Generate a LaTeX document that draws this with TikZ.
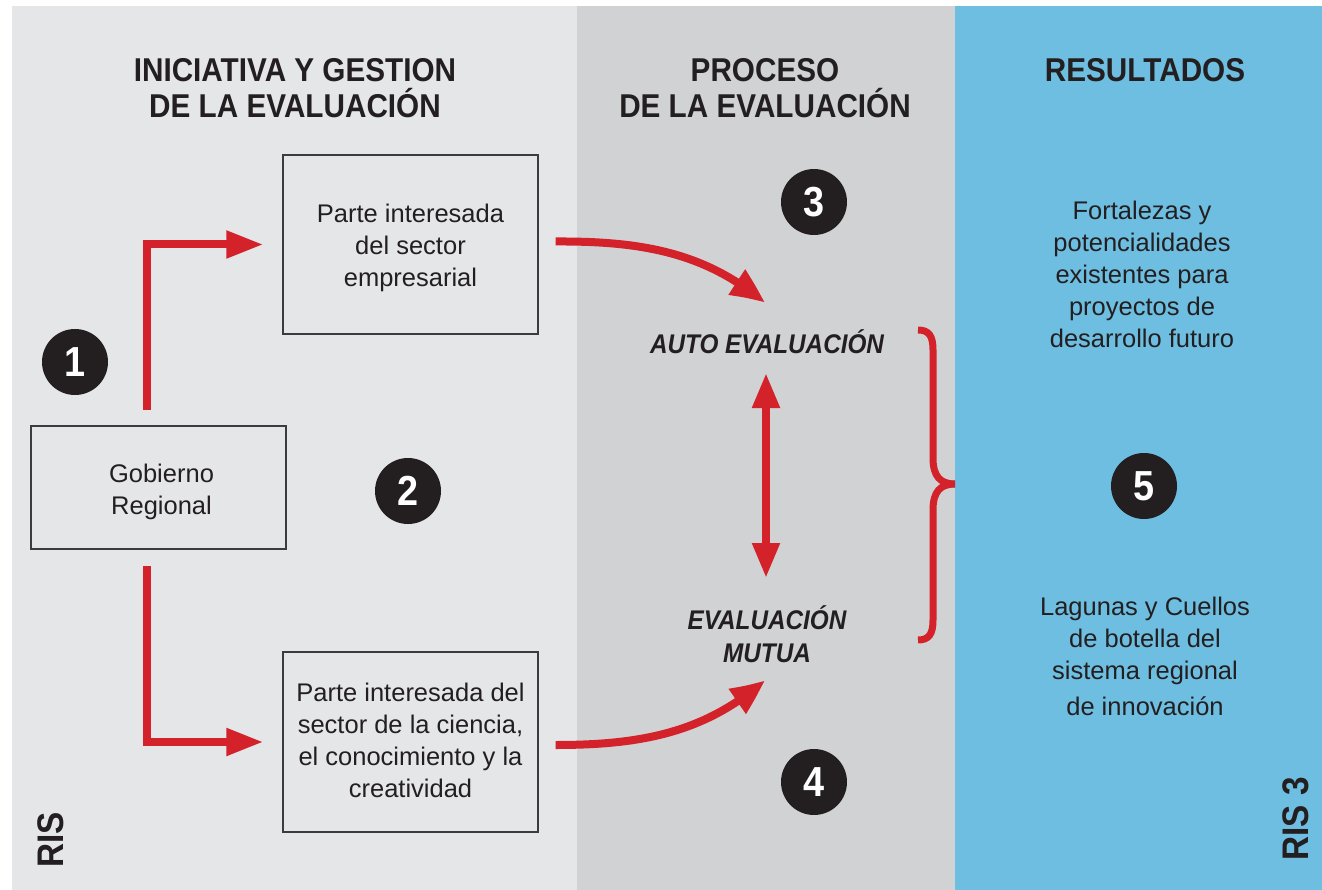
\documentclass[tikz,border=0pt]{standalone}
\usepackage{fontspec}
\setmainfont{Liberation Sans}
\newfontfamily\headfont[FakeStretch=0.9]{Liberation Sans}
\usetikzlibrary{arrows.meta,bending}
\definecolor{lightpanel}{RGB}{229,230,232}
\definecolor{midpanel}{RGB}{209,210,212}
\definecolor{bluepanel}{RGB}{110,190,225}
\definecolor{redline}{RGB}{211,34,42}
\definecolor{ink}{RGB}{35,31,32}
\definecolor{boxline}{RGB}{60,60,62}
\begin{document}
\begin{tikzpicture}[x=1pt,y=-1pt,
  body/.style={font=\fontsize{25.5}{32}\selectfont, text=ink, align=center, inner sep=0pt},
  head/.style={font=\headfont\bfseries\fontsize{33}{36}\selectfont, text=ink, align=center, inner sep=0pt},
  evalbl/.style={font=\headfont\bfseries\itshape\fontsize{27}{33}\selectfont, text=ink, align=center, inner sep=0pt},
  stakebox/.style={draw=boxline, line width=1.3pt, minimum width=255pt},
  numcirc/.style={circle, fill=ink, text=white, minimum size=66pt, inner sep=0pt,
    font=\headfont\bfseries\fontsize{42}{42}\selectfont},
  redarrow/.style={draw=redline, line width=8pt, -{Triangle[length=37pt,width=26pt]}},
  curvearrow/.style={draw=redline, line width=8pt, -{Triangle[length=36pt,width=28pt,bend]}},
  dblarrow/.style={draw=redline, line width=8pt, {Triangle[length=35pt,width=26pt]}-{Triangle[length=35pt,width=26pt]}},
  bracepath/.style={draw=redline, line width=7pt},
  rislbl/.style={font=\headfont\bfseries\fontsize{37}{37}\selectfont, text=ink, rotate=90, inner sep=0pt}
]
\useasboundingbox (0,0) rectangle (1322,890);
\fill[white] (0,0) rectangle (1322,890);
\fill[lightpanel] (12,6) rectangle (577,890);
\fill[midpanel] (577,6) rectangle (955,890);
\fill[bluepanel] (955,6) rectangle (1322,890);

% headings
\node[head] (h1) at (295,88) {INICIATIVA Y GESTION\\DE LA EVALUACIÓN};
\node[head] (h2) at (765,88) {PROCESO\\DE LA EVALUACIÓN};
\node[head] (h3) at (1145,70) {RESULTADOS};

% boxes
\node[stakebox, minimum height=179pt] (b1) at (410.5,244.5) {};
\node[stakebox, minimum height=123pt] (gob) at (158.5,487.5) {};
\node[stakebox, minimum height=180pt] (b3) at (410.5,742) {};
\node[body] (b1t) at ([yshift=-3pt]b1.center) {Parte interesada\\del sector\\empresarial};
\node[body] (gobt) at ([xshift=3pt,yshift=-4pt]gob.center) {Gobierno\\Regional};
\node[body] (b3t) at ([yshift=2pt]b3.center) {Parte interesada del\\sector de la ciencia,\\el conocimiento y la\\creatividad};

% evaluation labels
\node[evalbl] (auto) at (767,342) {AUTO EVALUACIÓN};
\node[evalbl] (mutua) at (767,634) {EVALUACIÓN\\MUTUA};

% results texts
\node[body] (r1) at (1142,274) {Fortalezas y\\potencialidades\\existentes para\\proyectos de\\desarrollo futuro};
\node[body] (r2) at (1145,656) {Lagunas y Cuellos\\de botella del\\sistema regional\\[4pt]de innovación};

% numbers
\node[numcirc] (n1) at (75,362) {1};
\node[numcirc] (n2) at (408,491) {2};
\node[numcirc] (n3) at (814,202) {3};
\node[numcirc] (n4) at (814,782) {4};
\node[numcirc] (n5) at (1144,486) {5};

% RIS labels
\node[rislbl] (ris) at (51,840) {RIS};
\node[rislbl] (ris3) at (1296,819) {RIS 3};

% connectors
\coordinate (gup) at (147,410);
\coordinate (gdn) at (147,566);
\draw[redarrow] (gup) |- ([xshift=-19pt]b1.west);
\draw[redarrow] (gdn) |- ([xshift=-19pt]b3.west);

\coordinate (c1s) at ([xshift=17pt,yshift=3pt]b1.east);
\coordinate (c1e) at (765,303);
\draw[curvearrow] (c1s) .. controls (640,241) and (705,252) .. (c1e);
\coordinate (c3s) at ([xshift=17pt,yshift=-3pt]b3.east);
\coordinate (c3e) at (765,680);
\draw[curvearrow] (c3s) .. controls (640,745) and (705,733) .. (c3e);

\coordinate (dtop) at (766,373);
\coordinate (dbot) at (766,578);
\draw[dblarrow] (dtop) -- (dbot);

% brace
\coordinate (brtop) at (918,330);
\coordinate (brbot) at (918,640);
\coordinate (brtip) at (955,484);
\draw[bracepath, line cap=butt] (brtop) .. controls (929,330) and (933,336) .. (933,350) -- (933,458)
  .. controls (933,476) and (940,484) .. (brtip);
\draw[bracepath, line cap=butt] (brbot) .. controls (929,640) and (933,634) .. (933,620) -- (933,510)
  .. controls (933,492) and (940,484) .. (brtip);
\end{tikzpicture}
\end{document}
